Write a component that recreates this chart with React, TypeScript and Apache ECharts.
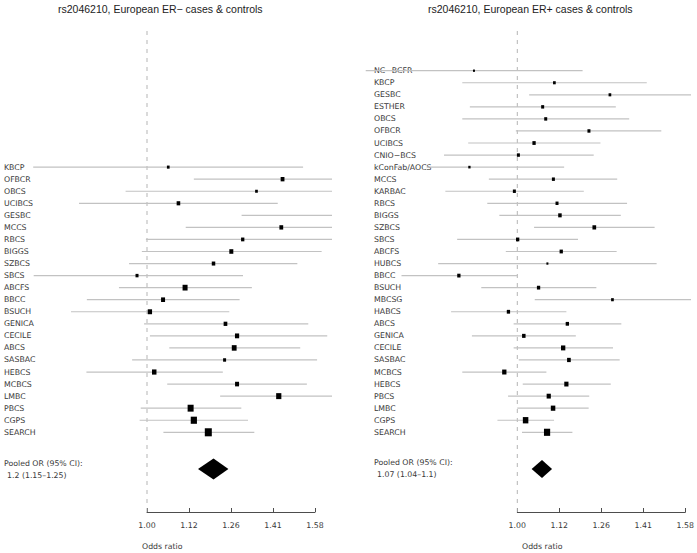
import React, { useEffect, useRef } from "react";
import * as echarts from "echarts";

// ---------- data: ER- panel ----------
const titleNeg = "rs2046210, European ER\u2212 cases & controls";
const studiesNeg = ["KBCP", "OFBCR", "OBCS", "UCIBCS", "GESBC", "MCCS", "RBCS", "BIGGS", "SZBCS", "SBCS", "ABCFS", "BBCC", "BSUCH", "GENICA", "CECILE", "ABCS", "SASBAC", "HEBCS", "MCBCS", "LMBC", "PBCS", "CGPS", "SEARCH"];
const orNeg = [1.06, 1.45, 1.35, 1.09, 1.69, 1.445, 1.3, 1.26, 1.2, 0.973, 1.11, 1.045, 1.008, 1.24, 1.28, 1.27, 1.237, 1.02, 1.28, 1.435, 1.127, 1.137, 1.183];
const lowerNeg = [0.732, 1.137, 0.943, 0.83, 1.296, 1.112, 0.997, 0.986, 0.952, 0.733, 0.926, 0.848, 0.812, 0.992, 1.008, 1.063, 0.96, 0.847, 1.057, 1.222, 0.983, 0.98, 1.046];
const upperNeg = [1.534, 1.84, 1.95, 1.431, 2.25, 1.88, 1.7, 1.614, 1.51, 1.301, 1.333, 1.289, 1.253, 1.556, 1.639, 1.522, 1.594, 1.231, 1.55, 1.68, 1.295, 1.319, 1.342];
const weightNeg = [2.7, 3.8, 2.7, 3.6, 3.5, 3.8, 3.3, 4.0, 3.5, 3.0, 5.0, 4.0, 4.3, 3.7, 4.2, 4.8, 3.0, 4.5, 4.0, 5.2, 6.0, 6.2, 7.0];
const pooledNeg = [1.2, 1.15, 1.25];

// ---------- data: ER+ panel ----------
const titlePos = "rs2046210, European ER+ cases & controls";
const studiesPos = ["NC\u2212BCFR", "KBCP", "GESBC", "ESTHER", "OBCS", "OFBCR", "UCIBCS", "CNIO\u2212BCS", "kConFab/AOCS", "MCCS", "KARBAC", "RBCS", "BIGGS", "SZBCS", "SBCS", "ABCFS", "HUBCS", "BBCC", "BSUCH", "MBCSG", "HABCS", "ABCS", "GENICA", "CECILE", "SASBAC", "MCBCS", "HEBCS", "PBCS", "LMBC", "CGPS", "SEARCH"];
const orPos = [0.888, 1.107, 1.289, 1.072, 1.081, 1.217, 1.047, 1.003, 0.877, 1.104, 0.992, 1.115, 1.124, 1.235, 1.001, 1.128, 1.086, 0.852, 1.06, 1.298, 0.976, 1.147, 1.018, 1.134, 1.152, 0.965, 1.144, 1.09, 1.103, 1.023, 1.085];
const lowerPos = [0.66, 0.86, 1.033, 0.878, 0.86, 0.996, 0.874, 0.818, 0.78, 0.925, 0.821, 0.921, 0.952, 1.047, 0.848, 0.969, 0.805, 0.728, 0.906, 1.049, 0.834, 0.99, 0.883, 0.99, 1.004, 0.86, 1.015, 0.975, 1.0, 0.947, 1.013];
const upperPos = [1.196, 1.426, 1.62, 1.31, 1.359, 1.484, 1.256, 1.233, 1.137, 1.315, 1.2, 1.351, 1.328, 1.457, 1.181, 1.313, 1.465, 1.0, 1.242, 1.62, 1.144, 1.33, 1.174, 1.3, 1.324, 1.083, 1.292, 1.218, 1.216, 1.106, 1.163];
const weightPos = [2.0, 2.7, 2.7, 3.0, 3.0, 3.0, 3.3, 3.0, 2.3, 3.0, 3.0, 3.0, 3.5, 3.7, 3.3, 3.3, 2.0, 3.3, 3.3, 2.7, 3.3, 3.3, 3.5, 4.3, 3.7, 4.3, 4.2, 4.2, 4.5, 5.5, 6.2];
const pooledPos = [1.07, 1.04, 1.1];

// ---------- layout ----------
const PX_PER_LOG = 840;
const ROW_H = 12.053;
const FIRST_ROW_Y = 70.7;
const TOP_Y = 31;
const AXIS_Y = 512;
const TOTAL_ROWS = 31;
const POOLED_ROW = 33.05;
const FONT = '"Liberation Sans", Arial, sans-serif';
const SMALL_FONT = '"DejaVu Sans", Verdana, sans-serif';
const SMALL_SIZE = 7.8;
const LINE_COLOR = "#c2c2c2";
const TEXT_COLOR = "#3a3a3a";

const panels = [
  { title: titleNeg, studies: studiesNeg, or: orNeg, lo: lowerNeg, hi: upperNeg, w: weightNeg, pooled: pooledNeg,
    origin: 147, clipL: 0, clipR: 332, labelX: 4, titleX: 58, oddsX: 142, pooledY: [463.5, 475.5], diamondH: 21 },
  { title: titlePos, studies: studiesPos, or: orPos, lo: lowerPos, hi: upperPos, w: weightPos, pooled: pooledPos,
    origin: 517.3, clipL: 362, clipR: 691, labelX: 374, titleX: 428, oddsX: 522, pooledY: [462, 474], diamondH: 18 },
];

const lg = (v: number) => Math.log10(v);

function textStyle(text: string, size: number, family: string, fill: string) {
  return {
    text, fill, fontSize: size, fontFamily: family,
    align: "left", verticalAlign: "middle", textAlign: "left", textVerticalAlign: "middle",
  };
}

function buildOption() {
  const grid: any[] = [];
  const xAxis: any[] = [];
  const yAxis: any[] = [];
  const series: any[] = [];
  const graphic: any[] = [];

  panels.forEach((p, k) => {
    const gData = 2 * k;
    const gAxis = 2 * k + 1;
    grid.push({ left: p.clipL, top: TOP_Y, width: p.clipR - p.clipL, height: AXIS_Y - TOP_Y });
    grid.push({ left: p.origin, top: AXIS_Y - 30, width: 0.2 * PX_PER_LOG, height: 30 });
    xAxis.push({
      gridIndex: gData, type: "value", show: false,
      min: (p.clipL - p.origin) / PX_PER_LOG, max: (p.clipR - p.origin) / PX_PER_LOG,
    });
    yAxis.push({
      gridIndex: gData, type: "value", show: false, inverse: true,
      min: (TOP_Y - FIRST_ROW_Y) / ROW_H, max: (AXIS_Y - FIRST_ROW_Y) / ROW_H,
    });
    xAxis.push({
      gridIndex: gAxis, type: "value", min: 0, max: 0.2, interval: 0.05,
      axisLine: { show: true, lineStyle: { color: "#4d4d4d", width: 1 } },
      axisTick: { show: true, inside: true, length: 4, lineStyle: { color: "#4d4d4d" } },
      axisLabel: {
        show: true, showMinLabel: true, showMaxLabel: true,
        formatter: (v: number) => Math.pow(10, v).toFixed(2),
        fontSize: SMALL_SIZE, fontFamily: SMALL_FONT, color: TEXT_COLOR, margin: 9,
      },
      splitLine: { show: false },
    });
    yAxis.push({ gridIndex: gAxis, type: "value", show: false, min: 0, max: 1 });

    const offset = TOTAL_ROWS - p.studies.length;

    // reference dashed line at OR = 1
    series.push({
      type: "custom", xAxisIndex: gData, yAxisIndex: gData, clip: false, silent: true,
      encode: { x: 0, y: 1 },
      data: [[0, 0]],
      renderItem: (params: any, api: any) => {
        const cs = params.coordSys;
        const x = api.coord([api.value(0), 0])[0];
        return {
          type: "line",
          shape: { x1: x, y1: cs.y, x2: x, y2: cs.y + cs.height },
          style: { stroke: "#b5b5b5", lineWidth: 1, lineDash: [4, 5] },
        };
      },
    });

    // study rows
    series.push({
      type: "custom", xAxisIndex: gData, yAxisIndex: gData, clip: false, silent: true,
      encode: { x: [0, 1, 2], y: 3 },
      data: p.studies.map((s, i) => [lg(p.lo[i]), lg(p.hi[i]), lg(p.or[i]), offset + i, p.w[i]]),
      renderItem: (params: any, api: any) => {
        const cs = params.coordSys;
        const row = api.value(3);
        const a = api.coord([api.value(0), row]);
        const b = api.coord([api.value(1), row]);
        const c = api.coord([api.value(2), row]);
        const y = a[1];
        const x1 = Math.max(a[0], cs.x);
        const x2 = Math.min(b[0], cs.x + cs.width);
        const s = api.value(4);
        const children: any[] = [
          {
            type: "text", x: p.labelX, y,
            style: textStyle(p.studies[params.dataIndex], SMALL_SIZE, SMALL_FONT, TEXT_COLOR),
          },
        ];
        if (x2 > x1) {
          children.push({
            type: "line", shape: { x1, y1: y, x2, y2: y },
            style: { stroke: LINE_COLOR, lineWidth: 1.2 },
          });
        }
        if (c[0] >= cs.x && c[0] <= cs.x + cs.width) {
          const h = s * 1.15;
          children.push({
            type: "rect", shape: { x: c[0] - s / 2, y: y - h / 2, width: s, height: h },
            style: { fill: "#000" },
          });
        }
        return { type: "group", children };
      },
    });

    // pooled diamond
    series.push({
      type: "custom", xAxisIndex: gData, yAxisIndex: gData, clip: false, silent: true,
      encode: { x: [0, 1, 2], y: 3 },
      data: [[lg(p.pooled[1]), lg(p.pooled[2]), lg(p.pooled[0]), POOLED_ROW]],
      renderItem: (params: any, api: any) => {
        const row = api.value(3);
        const a = api.coord([api.value(0), row]);
        const b = api.coord([api.value(1), row]);
        const c = api.coord([api.value(2), row]);
        const h = p.diamondH / 2;
        return {
          type: "polygon",
          shape: { points: [[a[0], a[1]], [c[0], c[1] - h], [b[0], b[1]], [c[0], c[1] + h]] },
          style: { fill: "#000" },
        };
      },
    });

    // texts
    graphic.push({ type: "text", x: p.titleX, y: 8.5, style: textStyle(p.title, 10.5, FONT, "#222") });
    graphic.push({ type: "text", x: p.labelX, y: p.pooledY[0], style: textStyle("Pooled OR (95% CI):", SMALL_SIZE, SMALL_FONT, TEXT_COLOR) });
    graphic.push({
      type: "text", x: p.labelX + 3, y: p.pooledY[1],
      style: textStyle(`${p.pooled[0]} (${p.pooled[1]}\u2013${p.pooled[2]})`, SMALL_SIZE, SMALL_FONT, TEXT_COLOR),
    });
    graphic.push({ type: "text", x: p.oddsX, y: 546, style: textStyle("Odds ratio", SMALL_SIZE, SMALL_FONT, TEXT_COLOR) });
  });

  return {
    animation: false,
    backgroundColor: "#fff",
    grid, xAxis, yAxis, series, graphic,
  };
}

export default function App() {
  const ref = useRef<HTMLDivElement>(null);
  useEffect(() => {
    if (!ref.current) return;
    const chart = echarts.init(ref.current, null, { renderer: "svg" });
    chart.setOption(buildOption() as any);
    return () => chart.dispose();
  }, []);
  return (
    <div
      ref={ref}
      style={{ position: "fixed", left: 0, top: 0, width: 697, height: 553, background: "#fff" }}
    />
  );
}
